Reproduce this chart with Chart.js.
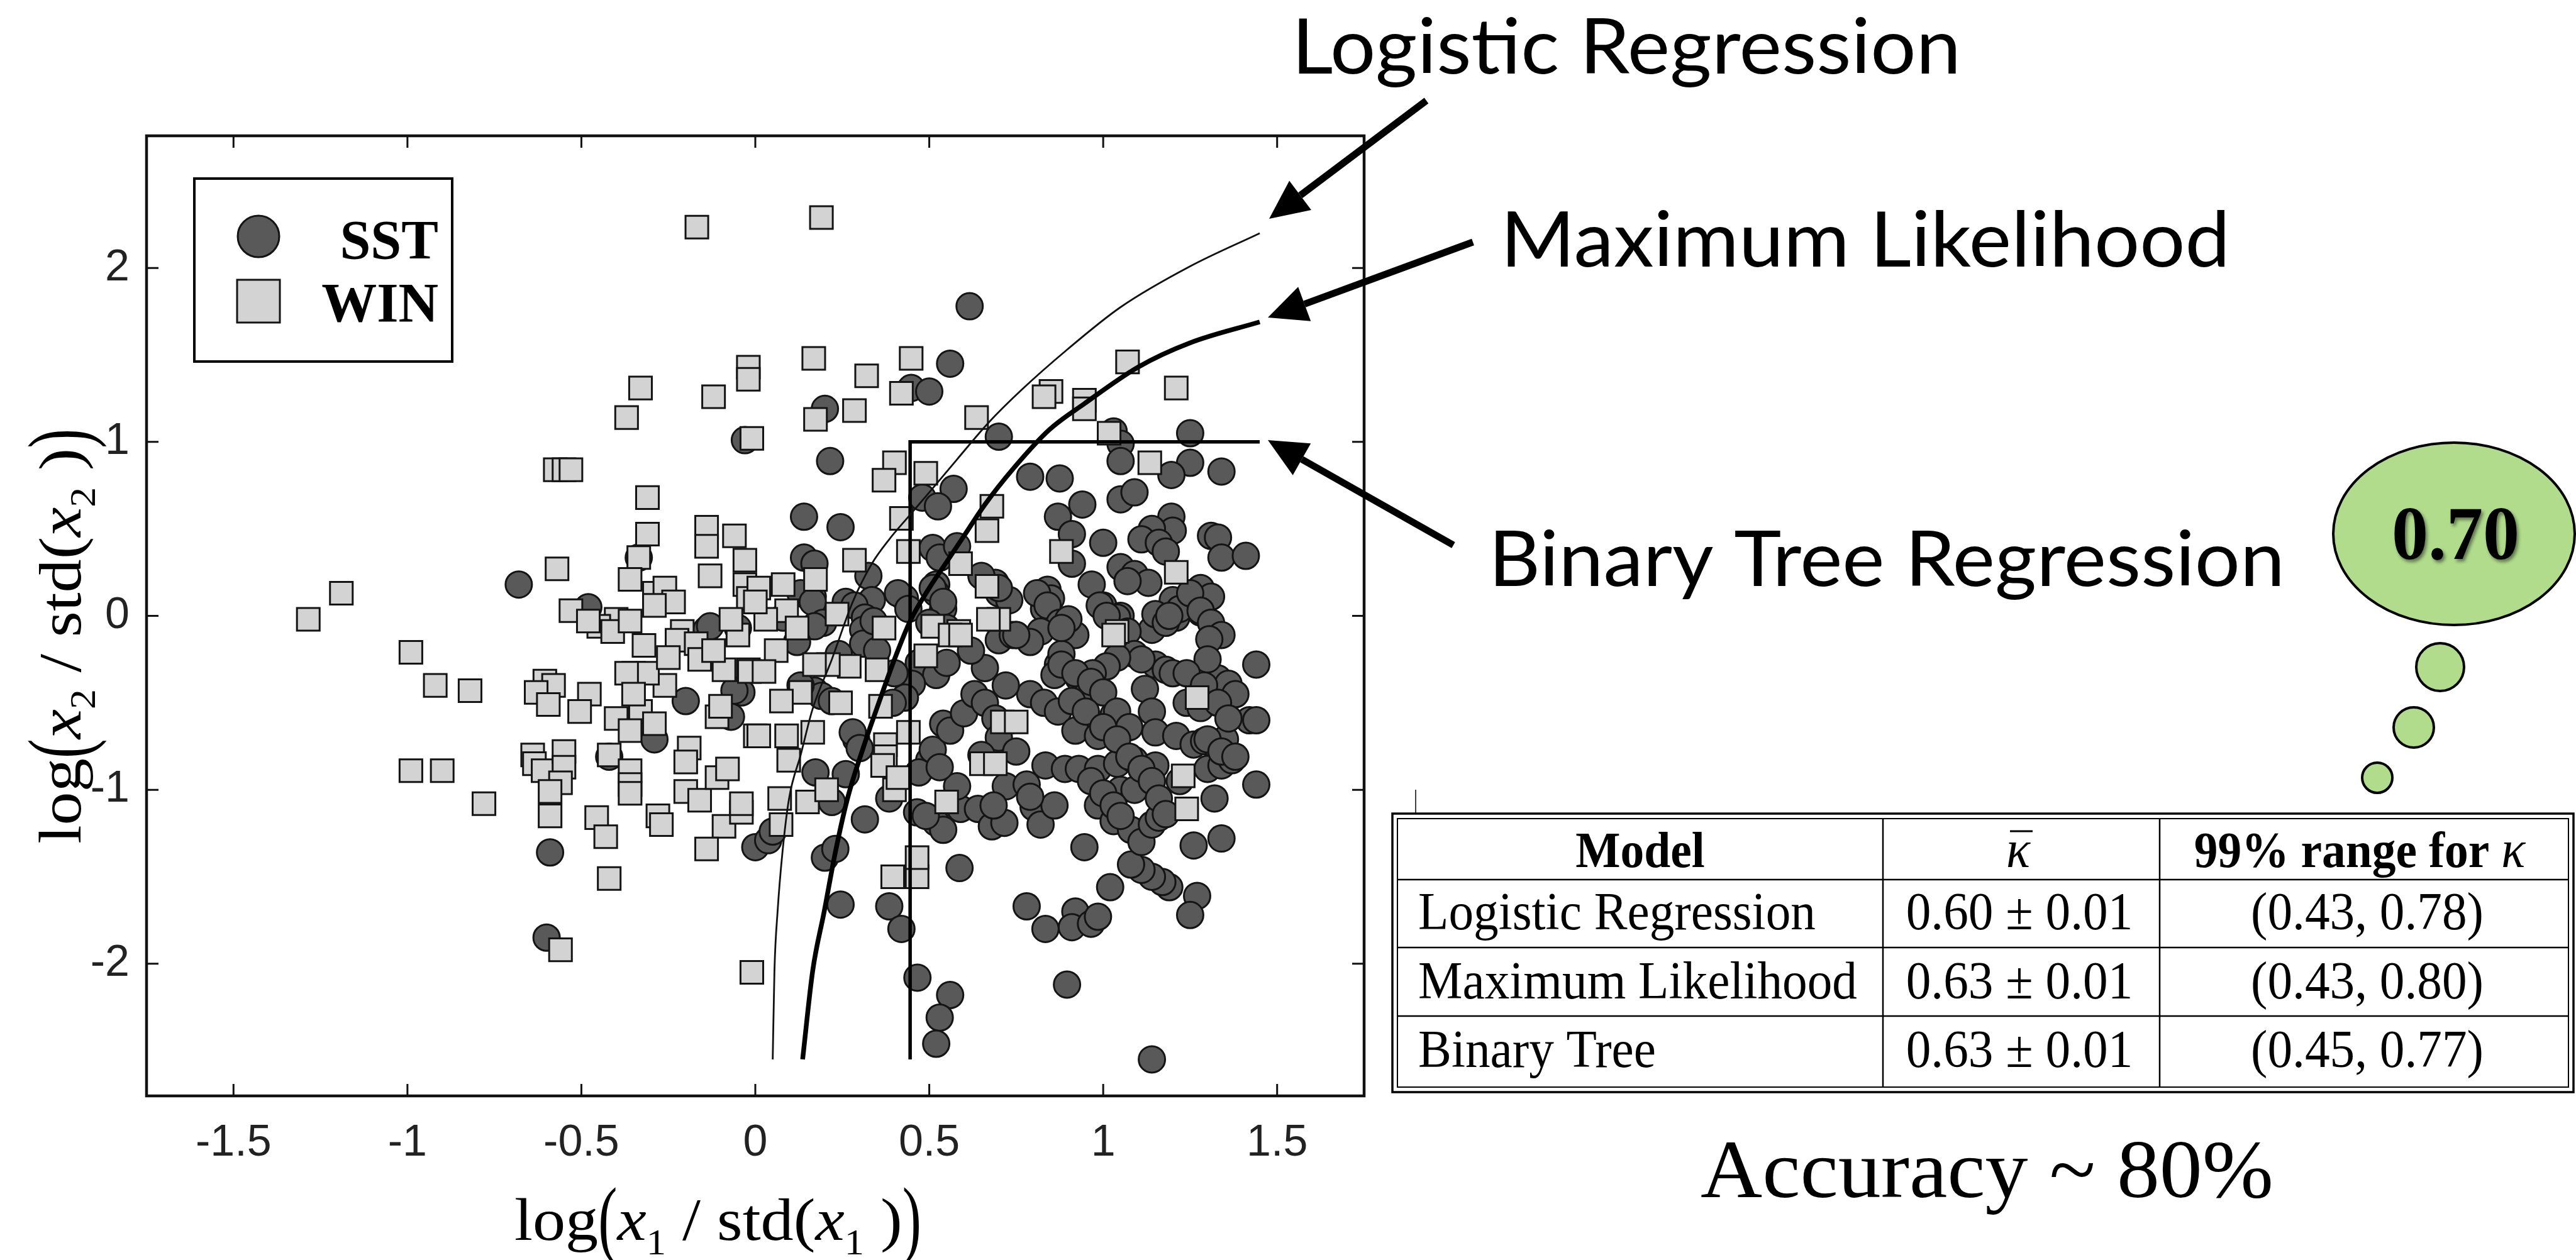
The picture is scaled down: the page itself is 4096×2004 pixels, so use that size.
<!DOCTYPE html>
<html>
<head>
<meta charset="utf-8">
<script src="https://cdn.jsdelivr.net/npm/chart.js@4.4.0/dist/chart.umd.min.js"></script>
<style>
html, body { margin: 0; padding: 0; background: #fff; overflow: hidden; }
#wrap { width: 4096px; height: 2004px; }
</style>
</head>
<body>
<div id="wrap"><canvas id="chart" width="4096" height="2004"></canvas></div>
<script>
// axis setup
const xTicks = [-1.5, -1, -0.5, 0, 0.5, 1, 1.5];
const yTicks = [-2, -1, 0, 1, 2];
const xRange = [-1.75, 1.75];
const yRange = [-2.76, 2.76];

// scatter values: [log(x1/std), log(x2/std)]
const sstPoints = [
    [0.616,1.78],[0.56,1.45],[0.448,1.31],[0.50,1.29],[0.20,1.19],[-0.03,1.01],[0.215,0.89],[0.70,1.03],
    [1.03,1.06],[1.05,0.99],[1.05,0.89],[1.25,1.05],[1.25,0.88],[1.196,0.81],[1.34,0.83],[0.79,0.80],
    [0.875,0.79],[0.57,0.73],[0.48,0.68],[0.525,0.63],[0.94,0.64],[1.05,0.67],[1.09,0.71],[0.87,0.57],
    [0.91,0.47],[1.196,0.57],[1.20,0.49],[1.14,0.50],[1.11,0.44],[1.16,0.42],[1.18,0.37],[1.0,0.42],
    [1.31,0.46],[1.33,0.45],[1.34,0.335],[1.41,0.345],[0.14,0.57],[0.245,0.51],[0.51,0.39],[0.53,0.335],
    [0.58,0.40],[0.14,0.335],[0.17,0.30],[0.325,0.23],[0.91,0.30],[0.967,0.18],[1.05,0.28],[1.09,0.24],
    [1.13,0.19],[1.07,0.20],[0.52,0.18],[0.69,0.19],[0.70,0.13],[0.84,0.15],[0.85,0.10],[0.83,0.04],
    [1.0,0.06],[1.05,0.0],[1.2,0.09],[1.24,0.06],[1.28,0.16],[1.31,0.11],[1.28,0.02],[1.21,-0.01],
    [1.33,-0.11],[0.165,0.11],[0.18,-0.04],[0.26,0.08],[0.315,0.06],[0.335,0.09],[0.43,0.10],[0.52,0.13],
    [0.54,0.04],[0.73,0.09],[0.75,-0.11],[0.88,-0.04],[0.92,-0.11],[1.14,-0.08],[-0.68,0.18],[-0.48,0.05],
    [-0.14,-0.08],[-0.335,0.335],
    [0.81,0.13],[0.84,0.06],[0.875,-0.04],[0.82,-0.09],[0.99,0.06],[1.04,-0.01],[1.07,-0.09],[1.15,0.01],
    [1.18,-0.04],[1.22,0.04],[1.25,0.13],[1.28,0.03],[1.31,-0.04],[1.34,-0.11],[0.13,0.13],[0.165,0.08],
    [0.195,-0.04],[0.285,0.06],[0.315,-0.01],[0.41,0.13],[0.44,0.04],[0.51,0.16],[0.54,0.08],[0.50,-0.04],
    [0.55,-0.07],[0.65,0.23],[0.70,0.16],[0.70,-0.14],[0.74,-0.11],
    [-0.59,-1.36],[-0.60,-1.85],[-0.20,-0.49],[-0.29,-0.71],[-0.42,-0.81],[-0.07,-0.58],[-0.04,-0.44],[0.0,-1.33],
    [-0.13,-0.06],[-0.05,-0.07],[0.037,-1.29],[0.05,-1.24],[0.173,-0.90],[0.26,-0.91],[0.22,-1.07],[0.20,-1.39],
    [0.23,-1.34],[0.245,-1.66],[0.315,-1.17],[0.29,-0.71],[0.28,-0.67],[0.30,-0.76],[0.385,-1.05],[0.385,-1.67],
    [0.42,-1.80],[0.466,-2.08],[0.56,-2.18],[0.53,-2.31],[0.52,-2.46],[0.587,-1.45],[0.465,-1.13],[0.52,-1.19],
    [0.54,-1.23],[0.49,-1.15],[0.59,-1.11],[0.64,-1.11],[0.68,-1.21],[0.58,-0.98],[0.50,-0.83],[0.51,-0.77],
    [0.47,-0.90],[0.53,-0.87],[0.72,-0.98],[0.54,-0.62],[0.56,-0.66],[0.60,-0.56],[0.63,-0.45],[0.66,-0.50],
    [0.69,-0.59],[0.47,-0.27],[0.52,-0.34],[0.55,-0.27],[0.45,-0.39],[0.43,-0.47],[0.40,-0.33],[0.395,-0.50],
    [0.08,-0.01],[0.17,-0.06],[0.17,-0.43],[0.19,-0.46],[0.13,-0.40],[0.22,-0.49],[0.31,-0.08],[0.31,-0.16],
    [0.34,-0.03],[0.24,-0.22],[0.35,-0.20],[0.12,-0.15],[-0.06,-0.43],
    [1.305,-0.135],[1.42,-0.60],[1.44,-0.97],[1.34,-1.28],[1.26,-1.32],[1.27,-1.61],[1.25,-1.72],[1.19,-1.56],
    [1.17,-1.53],[1.14,-1.50],[1.11,-1.46],[1.08,-1.43],[1.02,-1.56],[0.946,-1.33],[0.78,-1.67],[0.834,-1.80],
    [0.92,-1.70],[0.91,-1.79],[0.965,-1.77],[0.985,-1.73],[0.896,-2.12],[1.14,-2.55],[0.716,-1.19],[0.685,-1.09],
    [0.78,-0.97],[0.80,-1.10],[0.82,-1.20],[0.86,-1.09],[0.79,-1.04],[0.834,-0.86],[0.89,-0.88],[0.93,-0.88],
    [0.985,-0.88],[1.04,-0.85],[1.09,-0.83],[1.15,-0.86],[0.985,-1.09],[1.03,-1.18],[1.08,-1.23],[1.11,-1.30],
    [1.14,-1.20],[1.16,-1.16],[1.05,-1.0],[1.09,-1.0],[0.79,-0.45],[0.83,-0.50],[0.87,-0.55],[0.92,-0.66],
    [0.985,-0.69],[1.03,-0.66],[1.03,-0.57],[1.12,-0.42],[1.14,-0.55],[1.15,-0.67],[1.21,-0.69],[1.26,-0.74],
    [1.29,-0.72],[1.33,-0.76],[1.35,-0.71],[1.30,-0.88],[1.34,-0.86],[1.37,-0.83],[1.24,-0.5],[1.28,-0.53],
    [1.33,-0.36],[1.36,-0.39],[1.15,-0.28],[1.18,-0.31],[1.20,-0.33],[1.09,-0.22],[1.11,-0.25],[1.04,-0.24],
    [1.01,-0.29],[0.97,-0.33],[0.93,-0.36],[0.96,-0.41],[0.87,-0.28],[0.86,-0.34],[0.88,-0.22],[0.90,-0.02],
    [0.88,-0.07],[0.79,-0.15],[0.75,-0.11],[1.01,0.0],[1.19,0.0],[0.66,-0.30],[0.72,-0.40],[0.62,-0.20],
    [0.70,-0.70],[0.75,-0.78],[0.65,-0.80],[1.22,-0.95],[1.32,-1.05],[1.38,-0.45],[1.44,-0.28],[1.30,-0.25],
    [1.44,-0.60],
    [0.88,-0.28],[0.92,-0.33],[0.965,-0.38],[1.0,-0.44],[1.04,-0.55],[1.075,-0.64],[0.91,-0.49],[0.95,-0.55],
    [1.0,-0.64],[1.04,-0.71],[1.075,-0.81],[1.11,-0.88],[1.14,-0.95],[1.16,-1.05],[1.18,-1.14],[0.965,-0.95],
    [1.0,-1.02],[1.03,-1.09],[1.05,-1.15],[1.24,-0.33],[1.29,-0.40],[1.33,-0.50],[1.36,-0.59],[1.30,-0.71],
    [1.34,-0.78],[1.38,-0.81]
];

const winPoints = [
    [-0.168,2.235],[0.19,2.29],[-0.33,1.31],[-0.12,1.26],[-0.37,1.14],[-0.02,1.43],[-0.02,1.36],[-0.01,1.02],
    [-0.575,0.84],[-0.55,0.84],[-0.53,0.84],[-0.31,0.68],[-0.31,0.47],[-0.14,0.51],[-0.06,0.46],[-0.14,0.40],
    [-0.03,0.32],[-0.335,0.335],[-0.57,0.27],[-0.36,0.21],[-0.13,0.23],[-0.03,0.18],[-0.29,0.13],[-0.26,0.16],
    [-0.235,0.08],[-0.29,0.06],[-0.02,0.10],[-1.19,0.13],[-1.285,-0.02],[-0.53,0.03],[-0.40,-0.02],[-0.45,-0.06],
    [0.168,1.48],[0.448,1.48],[0.32,1.38],[0.42,1.28],[0.285,1.18],[0.173,1.13],[0.636,1.14],[0.85,1.29],
    [0.83,1.26],[0.946,1.24],[0.946,1.19],[1.07,1.46],[1.21,1.31],[1.017,1.05],[1.134,0.88],[0.40,0.88],
    [0.37,0.78],[0.49,0.82],[0.42,0.56],[0.68,0.63],[0.666,0.49],[0.44,0.37],[0.285,0.32],[0.88,0.37],
    [0.59,0.30],[1.21,0.25],[0.173,0.21],[0.666,0.17],[0.70,-0.02],[1.04,-0.09],[0.51,-0.06],[0.585,-0.09],
    [0.37,-0.07],[0.235,0.01],[0.09,0.03],[0.03,-0.02],[0.08,0.18],[0.01,0.16],[0.0,0.08],
    [-0.99,-0.21],[-0.92,-0.40],[-0.82,-0.43],[-0.99,-0.89],[-0.90,-0.89],[-0.78,-1.08],[-0.605,-0.375],[-0.58,-0.40],
    [-0.63,-0.44],[-0.595,-0.51],[-0.477,-0.45],[-0.505,-0.55],[-0.40,-0.59],[-0.33,-0.55],[-0.36,-0.66],[-0.29,-0.62],
    [-0.26,-0.40],[-0.11,-0.58],[0.0,-0.69],[-0.64,-0.80],[-0.635,-0.85],[-0.61,-0.89],[-0.55,-0.78],[-0.55,-0.87],
    [-0.56,-0.96],[-0.59,-1.01],[-0.59,-1.15],[-0.42,-0.80],[-0.36,-0.89],[-0.36,-0.97],[-0.36,-1.02],[-0.456,-1.16],
    [-0.43,-1.27],[-0.42,-1.51],[-0.19,-0.76],[-0.20,-0.84],[-0.20,-1.01],[-0.16,-1.06],[-0.11,-0.93],[-0.08,-0.88],
    [-0.28,-1.15],[-0.27,-1.20],[-0.09,-1.21],[-0.14,-1.34],[-0.04,-1.13],[-0.04,-1.08],[-0.01,-2.05],[-0.56,-1.92],
    [-0.21,-0.09],[-0.225,-0.14],[-0.17,-0.16],[-0.05,-0.11],[-0.32,-0.17],[-0.35,-0.33],[-0.31,-0.33],[-0.37,-0.33],
    [-0.35,-0.45],[-0.16,-0.25],[-0.09,-0.31],[-0.02,-0.31],[-0.10,-0.52],[-0.48,-0.03],[-0.41,-0.09],[-0.36,-0.03],
    [-0.25,-0.24],[-0.12,-0.20],[0.06,-0.20],[0.12,-0.07],[-0.07,-0.02],
    [0.01,-0.69],[0.09,-0.69],[0.165,-0.67],[0.096,-0.83],[0.07,-1.05],[0.15,-1.07],[0.074,-1.20],[0.205,-1.00],
    [0.245,-0.50],[0.13,-0.44],[0.075,-0.49],[-0.017,-0.32],[0.025,-0.32],[0.35,-0.31],[0.27,-0.29],[0.21,-0.28],
    [0.17,-0.28],[0.36,-0.52],[0.374,-0.74],[0.374,-0.81],[0.366,-0.86],[0.40,-1.00],[0.41,-0.93],[0.395,-1.50],
    [0.465,-1.50],[0.465,-1.39],[0.44,-0.67],[0.49,-0.23],[0.56,-0.11],[0.59,-0.11],[0.55,-1.07],[0.65,-0.85],
    [0.67,-0.02],[0.71,-0.61],[1.03,-0.11],[1.27,-0.47],[0.75,-0.61],[0.69,-0.85],[1.23,-0.92],[1.24,-1.11]
];

// decision boundaries
const logisticCurve = [
    [0.050,-2.55],[0.055,-2.04],[0.064,-1.70],[0.078,-1.36],[0.097,-1.05],[0.131,-0.795],[0.164,-0.54],[0.22,-0.25],
    [0.28,0.08],[0.335,0.30],[0.385,0.44],[0.44,0.57],[0.50,0.71],[0.58,0.90],[0.67,1.11],[0.763,1.295],
    [0.896,1.53],[1.05,1.775],[1.25,2.01],[1.45,2.20]
];
const likelihoodCurve = [
    [0.136,-2.55],[0.165,-2.04],[0.198,-1.70],[0.23,-1.36],[0.265,-1.05],[0.31,-0.76],[0.355,-0.50],[0.40,-0.25],
    [0.445,-0.03],[0.50,0.16],[0.55,0.31],[0.60,0.46],[0.66,0.64],[0.743,0.85],[0.845,1.07],[0.946,1.22],
    [1.10,1.43],[1.25,1.57],[1.45,1.69]
];
const treeBoundary = [[0.445,-2.55],[0.445,1.0],[1.45,1.0]];

const seriesNames = ['SST', 'WIN'];
const calloutLabels = ['Logistic Regression', 'Maximum Likelihood', 'Binary Tree Regression'];
const tableHeader = ['Model', 'κ', '99% range for '];
const modelNames = ['Logistic Regression', 'Maximum Likelihood', 'Binary Tree'];
const kappaMeans = ['0.60 ± 0.01', '0.63 ± 0.01', '0.63 ± 0.01'];
const kappaRanges = ['(0.43, 0.78)', '(0.43, 0.80)', '(0.45, 0.77)'];
const bubbleValue = '0.70';
const accuracyText = 'Accuracy ~ 80%';

const SERIF = '"Liberation Serif", "Times New Roman", serif';
const SANS = '"Liberation Sans", Arial, sans-serif';
const HUMAN = 'Lato, "Open Sans", sans-serif';
const SST_FILL = '#595959';
const WIN_FILL = '#d3d3d3';
const EDGE = '#141414';
const BUBBLE = '#b0dc8c';

const toXY = pts => pts.map(([x, y]) => ({ x, y }));

// text squeezed/stretched to a given width, left edge at x
function fitText(ctx, text, x, y, width, font) {
    ctx.font = font;
    const w = ctx.measureText(text).width;
    ctx.save();
    ctx.translate(x, y);
    ctx.scale(width / w, 1);
    ctx.fillText(text, 0, 0);
    ctx.restore();
}

function mathParts(ctx, sub, fs) {
    const big = `${fs * 1.45}px ${SERIF}`;
    const parts = [
        { t: 'log', font: `${fs}px ${SERIF}`, dy: 0, sx: 1 },
        { t: '(', font: big, dy: fs * 0.13, sx: 0.6 },
        { t: 'x', font: `italic ${fs}px ${SERIF}`, dy: 0, sx: 1 },
        { t: sub, font: `${fs * 0.6}px ${SERIF}`, dy: fs * 0.24, sx: 1 },
        { t: ' / std(', font: `${fs}px ${SERIF}`, dy: 0, sx: 1 },
        { t: 'x', font: `italic ${fs}px ${SERIF}`, dy: 0, sx: 1 },
        { t: sub, font: `${fs * 0.6}px ${SERIF}`, dy: fs * 0.24, sx: 1 },
        { t: ' )', font: `${fs}px ${SERIF}`, dy: 0, sx: 1 },
        { t: ')', font: big, dy: fs * 0.13, sx: 0.6 }
    ];
    let total = 0;
    parts.forEach(p => { ctx.font = p.font; p.w = ctx.measureText(p.t).width * p.sx; total += p.w; });
    return { parts, total };
}

function drawMath(ctx, sub, fs, width) {
    const { parts, total } = mathParts(ctx, sub, fs);
    ctx.save();
    ctx.scale(width / total, 1);
    let cx = 0;
    parts.forEach(p => {
        ctx.font = p.font;
        ctx.save();
        ctx.translate(cx, p.dy);
        ctx.scale(p.sx, 1);
        ctx.fillText(p.t, 0, 0);
        ctx.restore();
        cx += p.w;
    });
    ctx.restore();
}

function arrow(ctx, x1, y1, x2, y2) {
    const a = Math.atan2(y2 - y1, x2 - x1);
    const hl = 62, hw = 29;
    const bx = x2 - hl * Math.cos(a), by = y2 - hl * Math.sin(a);
    ctx.lineWidth = 11;
    ctx.beginPath();
    ctx.moveTo(x1, y1);
    ctx.lineTo(bx, by);
    ctx.stroke();
    ctx.beginPath();
    ctx.moveTo(x2, y2);
    ctx.lineTo(bx + hw * Math.sin(a), by - hw * Math.cos(a));
    ctx.lineTo(bx - hw * Math.sin(a), by + hw * Math.cos(a));
    ctx.closePath();
    ctx.fill();
}

function ellipse(ctx, cx, cy, rx, ry) {
    ctx.save();
    ctx.beginPath();
    ctx.ellipse(cx, cy, rx, ry, 0, 0, Math.PI * 2);
    ctx.fillStyle = BUBBLE;
    ctx.fill();
    ctx.lineWidth = 4;
    ctx.strokeStyle = '#000';
    ctx.stroke();
    ctx.restore();
}

const framePlugin = {
    id: 'frame',
    afterDatasetsDraw(chart) {
        const { ctx, chartArea: a, scales: { x, y } } = chart;
        ctx.save();
        ctx.strokeStyle = '#111';
        ctx.lineWidth = 3;
        ctx.beginPath();
        x.ticks.forEach(t => {
            const px = x.getPixelForValue(t.value);
            ctx.moveTo(px, a.bottom); ctx.lineTo(px, a.bottom - 19);
            ctx.moveTo(px, a.top); ctx.lineTo(px, a.top + 19);
        });
        y.ticks.forEach(t => {
            const py = y.getPixelForValue(t.value);
            ctx.moveTo(a.left, py); ctx.lineTo(a.left + 19, py);
            ctx.moveTo(a.right, py); ctx.lineTo(a.right - 19, py);
        });
        ctx.stroke();
        ctx.lineWidth = 4.5;
        ctx.strokeRect(a.left, a.top, a.right - a.left, a.bottom - a.top);

        // legend box
        const lx = a.left + 76, ly = a.top + 68, lw = 410, lh = 291;
        ctx.fillStyle = '#fff';
        ctx.fillRect(lx, ly, lw, lh);
        ctx.lineWidth = 4;
        ctx.strokeStyle = '#000';
        ctx.strokeRect(lx, ly, lw, lh);
        ctx.beginPath();
        ctx.arc(lx + 102, ly + 92, 33, 0, Math.PI * 2);
        ctx.fillStyle = SST_FILL; ctx.fill();
        ctx.lineWidth = 3; ctx.strokeStyle = EDGE; ctx.stroke();
        ctx.fillStyle = WIN_FILL;
        ctx.fillRect(lx + 68, ly + 161, 68, 68);
        ctx.strokeRect(lx + 68, ly + 161, 68, 68);
        ctx.fillStyle = '#000';
        ctx.font = `bold 88px ${SERIF}`;
        ctx.textAlign = 'right';
        ctx.textBaseline = 'alphabetic';
        ctx.fillText(seriesNames[0], lx + 388, ly + 127);
        ctx.fillText(seriesNames[1], lx + 388, ly + 227);
        ctx.restore();
    },
    afterDraw(chart) {
        const { ctx } = chart;
        ctx.save();
        ctx.fillStyle = '#000';
        ctx.strokeStyle = '#000';
        ctx.textBaseline = 'alphabetic';
        ctx.textAlign = 'left';

        // axis titles
        ctx.save();
        ctx.translate(818, 1972);
        drawMath(ctx, '1', 95, 647);
        ctx.restore();
        ctx.save();
        ctx.translate(128, 1342);
        ctx.rotate(-Math.PI / 2);
        drawMath(ctx, '2', 95, 660);
        ctx.restore();

        // callouts
        fitText(ctx, calloutLabels[0], 2054, 117, 1064, `122px ${HUMAN}`);
        fitText(ctx, calloutLabels[1], 2386, 424, 1160, `122px ${HUMAN}`);
        fitText(ctx, calloutLabels[2], 2367, 932, 1266, `122px ${HUMAN}`);
        arrow(ctx, 2268, 160, 2018, 348);
        arrow(ctx, 2342, 385, 2016, 505);
        arrow(ctx, 2311, 867, 2016, 700);

        // thought bubble
        ellipse(ctx, 3902, 849, 192, 145);
        ellipse(ctx, 3880, 1061, 38, 38);
        ellipse(ctx, 3838, 1157, 32, 32);
        ellipse(ctx, 3780, 1237, 24, 24);
        ctx.save();
        ctx.shadowColor = 'rgba(0,0,0,0.45)';
        ctx.shadowOffsetX = 3;
        ctx.shadowOffsetY = 4;
        ctx.shadowBlur = 5;
        fitText(ctx, bubbleValue, 3803, 889, 203, `bold 120px ${SERIF}`);
        ctx.restore();

        // table
        ctx.lineWidth = 1.5;
        ctx.beginPath();
        ctx.moveTo(2251, 1256); ctx.lineTo(2251, 1294);
        ctx.stroke();
        const L = 2214, T = 1294, R = 4092, B = 1737, g = 8;
        ctx.lineWidth = 3.5;
        ctx.strokeRect(L, T, R - L, B - T);
        ctx.lineWidth = 2;
        ctx.strokeRect(L + g, T + g, R - L - 2 * g, B - T - 2 * g);
        ctx.beginPath();
        [1399, 1507, 1616].forEach(yy => { ctx.moveTo(L + g, yy); ctx.lineTo(R - g, yy); });
        [2994, 3434].forEach(xx => { ctx.moveTo(xx, T + g); ctx.lineTo(xx, B - g); });
        ctx.lineWidth = 2.5;
        ctx.stroke();

        ctx.font = `84px ${SERIF}`;
        const squeeze = 698 / ctx.measureText(modelNames[1]).width;
        const cell = (text, x, y, font, align) => {
            ctx.font = font;
            const w = ctx.measureText(text).width * squeeze;
            const left = align === 'center' ? x - w / 2 : x;
            fitText(ctx, text, left, y, w, font);
        };
        cell(tableHeader[0], 2608, 1379, `bold 80px ${SERIF}`, 'center');
        // kappa with bar
        ctx.font = `italic 84px ${SERIF}`;
        const kw = ctx.measureText(tableHeader[1]).width * squeeze;
        fitText(ctx, tableHeader[1], 3209 - kw / 2, 1379, kw, `italic 84px ${SERIF}`);
        ctx.lineWidth = 3;
        ctx.beginPath(); ctx.moveTo(3209 - kw / 2 + 6, 1322); ctx.lineTo(3209 + kw / 2 + 4, 1322); ctx.stroke();
        // range header: bold text + italic kappa
        ctx.font = `bold 80px ${SERIF}`;
        const hw1 = ctx.measureText(tableHeader[2]).width * squeeze;
        ctx.font = `italic 84px ${SERIF}`;
        const hw2 = ctx.measureText(tableHeader[1]).width * squeeze;
        const hl = 3752 - (hw1 + hw2) / 2;
        fitText(ctx, tableHeader[2], hl, 1379, hw1, `bold 80px ${SERIF}`);
        fitText(ctx, tableHeader[1], hl + hw1, 1379, hw2, `italic 84px ${SERIF}`);

        const rowBase = [1478, 1588, 1697];
        modelNames.forEach((m, i) => {
            cell(m, 2255, rowBase[i], `84px ${SERIF}`, 'left');
            cell(kappaMeans[i], 3211, rowBase[i], `84px ${SERIF}`, 'center');
            cell(kappaRanges[i], 3764, rowBase[i], `84px ${SERIF}`, 'center');
        });

        fitText(ctx, accuracyText, 2704, 1904, 911, `132px ${SERIF}`);
        ctx.restore();
    }
};

new Chart(document.getElementById('chart'), {
    type: 'scatter',
    data: {
        datasets: [
            { label: 'Logistic Regression', data: toXY(logisticCurve), showLine: true, borderColor: '#111',
              borderWidth: 2.8, pointRadius: 0, cubicInterpolationMode: 'monotone', order: 0 },
            { label: 'Maximum Likelihood', data: toXY(likelihoodCurve), showLine: true, borderColor: '#000',
              borderWidth: 7.5, pointRadius: 0, cubicInterpolationMode: 'monotone', order: 0 },
            { label: 'Binary Tree', data: toXY(treeBoundary), showLine: true, borderColor: '#000',
              borderWidth: 5.5, pointRadius: 0, tension: 0, order: 0 },
            { label: seriesNames[1], data: toXY(winPoints), pointStyle: 'rect', pointRadius: 25.5,
              backgroundColor: WIN_FILL, borderColor: EDGE, borderWidth: 3, order: 1 },
            { label: seriesNames[0], data: toXY(sstPoints), pointStyle: 'circle', pointRadius: 21,
              backgroundColor: SST_FILL, borderColor: EDGE, borderWidth: 3, order: 2 }
        ]
    },
    options: {
        responsive: false,
        devicePixelRatio: 1,
        animation: false,
        events: [],
        layout: { padding: { left: 0, top: 216, right: 1927, bottom: 0 } },
        plugins: { legend: { display: false }, tooltip: { enabled: false } },
        scales: {
            x: {
                type: 'linear', min: xRange[0], max: xRange[1],
                grid: { display: false }, border: { display: false },
                afterFit: s => { s.height = 261; },
                afterBuildTicks: s => { s.ticks = xTicks.map(v => ({ value: v })); },
                ticks: { padding: 26, color: '#222', font: { family: SANS, size: 70 },
                         maxRotation: 0, autoSkip: false, callback: v => String(v) }
            },
            y: {
                type: 'linear', min: yRange[0], max: yRange[1],
                grid: { display: false }, border: { display: false },
                afterFit: s => { s.width = 233; },
                afterBuildTicks: s => { s.ticks = yTicks.map(v => ({ value: v })); },
                ticks: { padding: 19, color: '#222', font: { family: SANS, size: 70 },
                         autoSkip: false, callback: v => String(v) }
            }
        }
    },
    plugins: [framePlugin]
});
</script>
</body>
</html>
